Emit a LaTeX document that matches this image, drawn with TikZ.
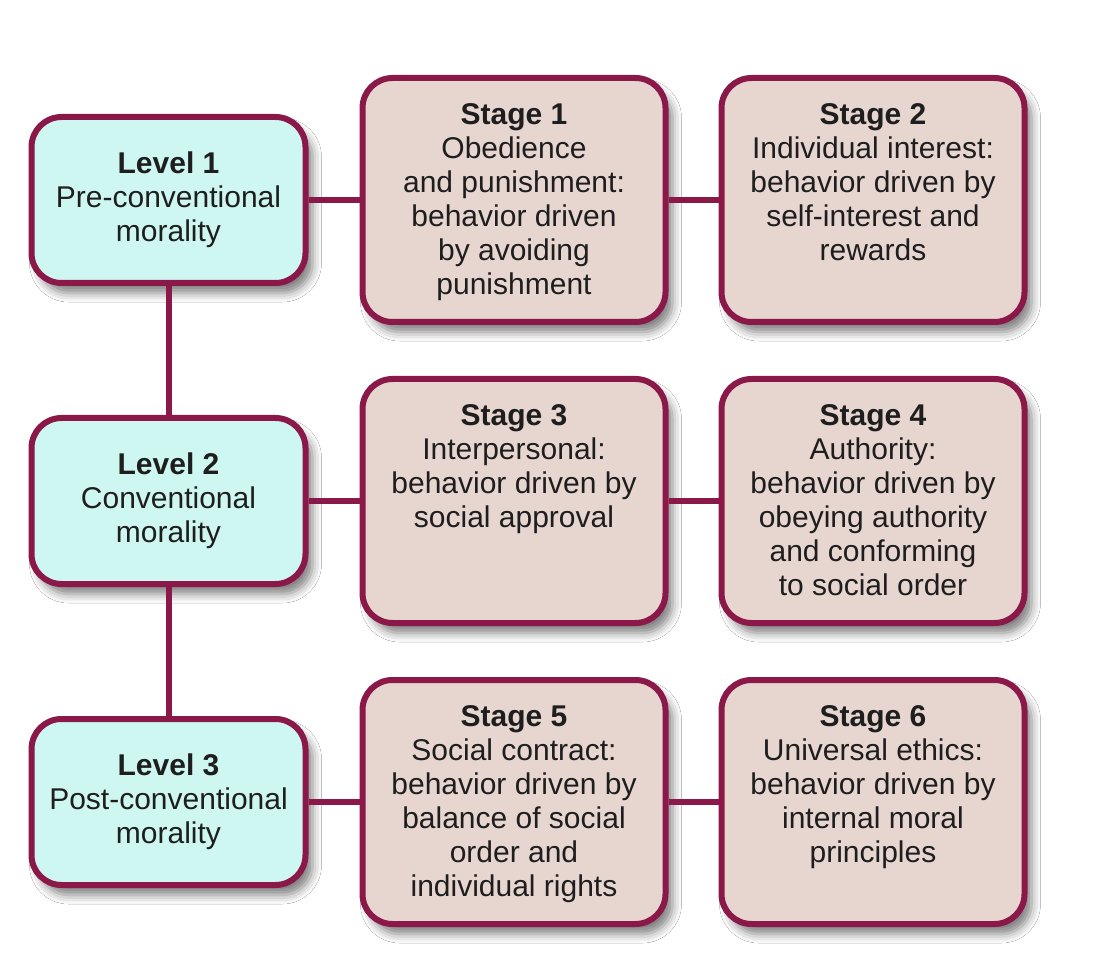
\documentclass[tikz,border=0pt]{standalone}
\usepackage{fontspec}
\setmainfont{Liberation Sans}
\definecolor{kbord}{RGB}{138, 24, 72}
\definecolor{klevel}{RGB}{206, 247, 241}
\definecolor{kstage}{RGB}{231, 214, 208}
\definecolor{ktext}{RGB}{30, 30, 30}
\usetikzlibrary{positioning, shadows.blur}

\begin{document}
\begin{tikzpicture}[
    every node/.style={font=\fontsize{30}{34}\selectfont, text=ktext},
    boxshadow/.style={blur shadow={shadow xshift=7pt, shadow yshift=-10pt, shadow blur radius=9pt, shadow opacity=50}},
    levelbox/.style={draw=kbord, line width=6pt, fill=klevel, rounded corners=30pt,
        minimum width=274pt, minimum height=166pt, align=center, boxshadow},
    stagebox/.style={draw=kbord, line width=6pt, fill=kstage, rounded corners=30pt,
        minimum width=303pt, inner xsep=5pt, inner ysep=26pt, boxshadow,
        execute at begin node={\begin{minipage}[c][192pt][t]{293pt}\centering},
        execute at end node={\end{minipage}}},
    link/.style={draw=kbord, line width=6pt}
  ]
    \fill[white] (0,0) rectangle (1096pt,-976pt);
    \useasboundingbox (0,0) rectangle (1096pt,-976pt);

    % levels on the left
    \node[levelbox] (l1) at (168.5pt,-200pt) {\textbf{Level 1}\\Pre-conventional\\morality};
    \node[levelbox, below=129pt of l1] (l2) {\textbf{Level 2}\\Conventional\\morality};
    \node[levelbox, below=129pt of l2] (l3) {\textbf{Level 3}\\Post-conventional\\morality};

    % stages
    \node[stagebox, right=51pt of l1] (s1) {\textbf{Stage 1}\\Obedience\\and punishment:\\behavior driven\\by avoiding\\punishment};
    \node[stagebox, right=50pt of s1] (s2) {\textbf{Stage 2}\\Individual interest:\\behavior driven by\\self-interest and\\rewards};
    \node[stagebox, right=51pt of l2] (s3) {\textbf{Stage 3}\\Interpersonal:\\behavior driven by\\social approval};
    \node[stagebox, right=50pt of s3] (s4) {\textbf{Stage 4}\\Authority:\\behavior driven by\\obeying authority\\and conforming\\to social order};
    \node[stagebox, right=51pt of l3] (s5) {\textbf{Stage 5}\\Social contract:\\behavior driven by\\balance of social\\order and\\individual rights};
    \node[stagebox, right=50pt of s5] (s6) {\textbf{Stage 6}\\Universal ethics:\\behavior driven by\\internal moral\\principles};

    \draw[link] (l1) -- (l2);
    \draw[link] (l2) -- (l3);
    \draw[link] (l1) -- (s1);
    \draw[link] (s1) -- (s2);
    \draw[link] (l2) -- (s3);
    \draw[link] (s3) -- (s4);
    \draw[link] (l3) -- (s5);
    \draw[link] (s5) -- (s6);
  \end{tikzpicture}
\end{document}
